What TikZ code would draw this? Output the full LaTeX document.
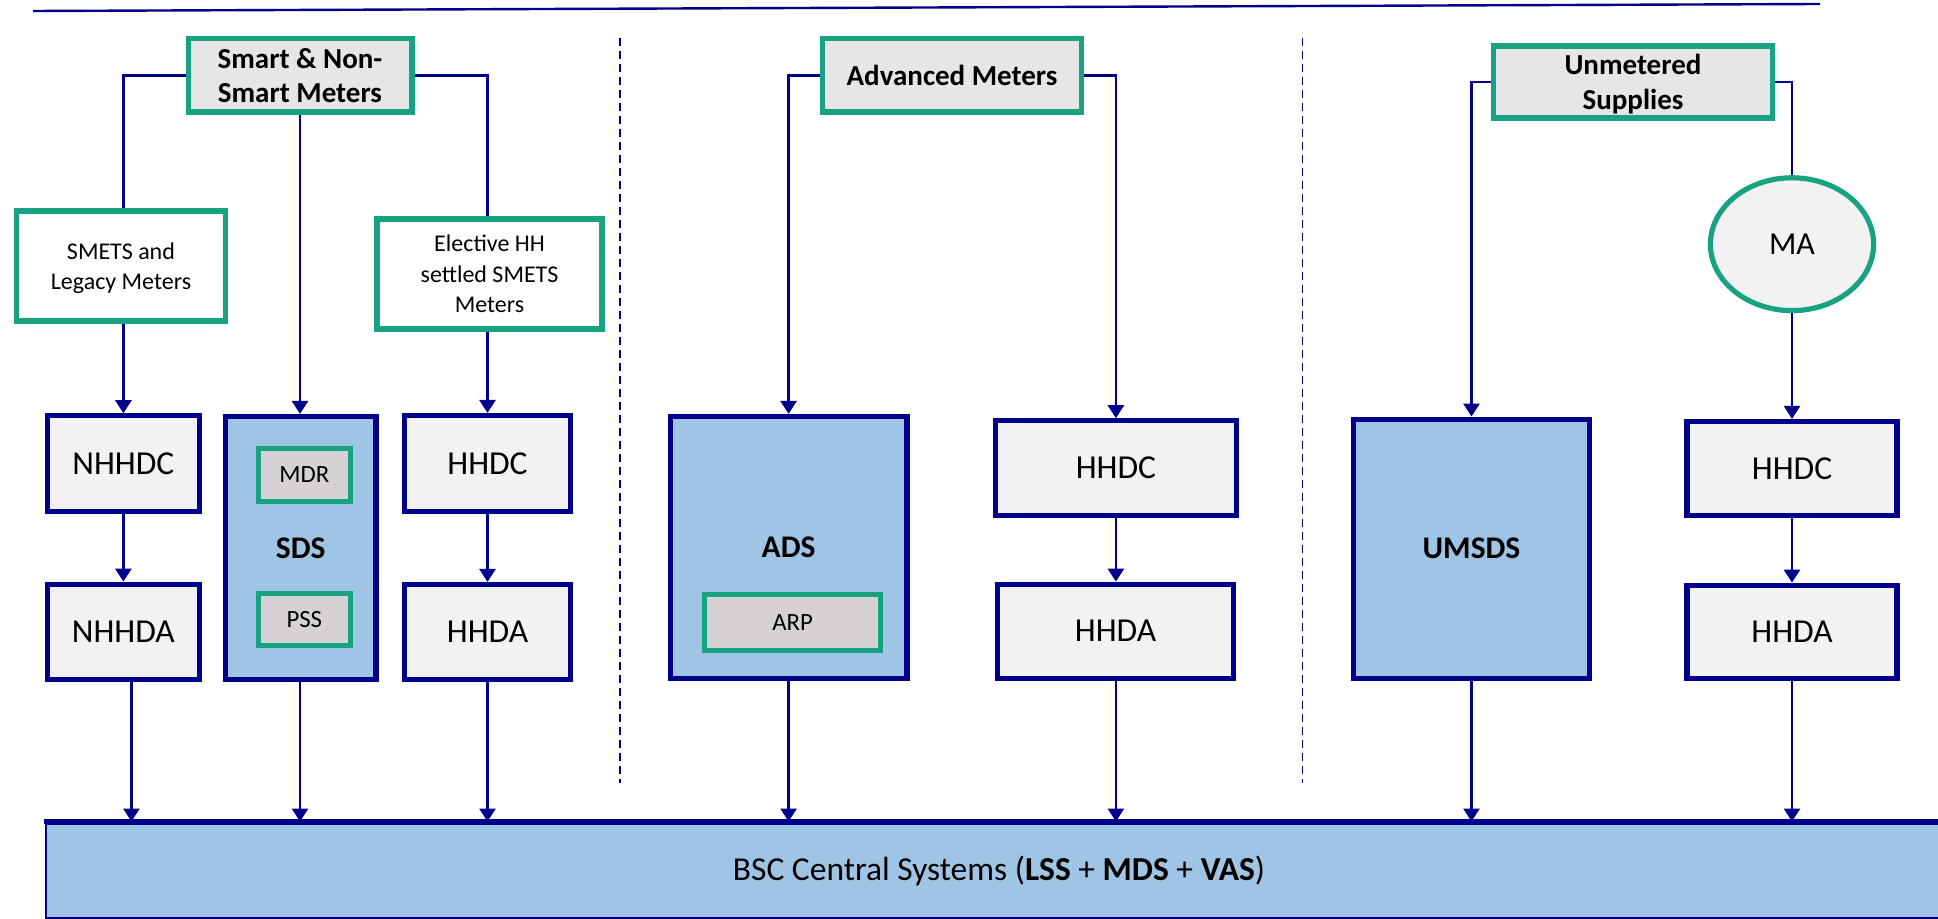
\documentclass[tikz,border=0pt]{standalone}
\usepackage{fontspec}
\setmainfont{Carlito}
\usetikzlibrary{arrows.meta,shapes.geometric}
\definecolor{navy}{RGB}{0,0,140}
\definecolor{tgreen}{RGB}{24,162,132}
\definecolor{lblue}{RGB}{160,196,228}
\definecolor{headgrey}{RGB}{230,230,230}
\definecolor{boxgrey}{RGB}{242,242,242}
\definecolor{innergrey}{RGB}{214,210,212}
\tikzset{
  navybox/.style={draw=navy, line width=2.6pt, fill=boxgrey, inner sep=0pt, font=\fontsize{16.75}{20}\selectfont},
  bluebox/.style={draw=navy, line width=2.6pt, fill=lblue, inner sep=0pt, font=\bfseries\fontsize{15.75}{19}\selectfont},
  headbox/.style={draw=tgreen, line width=2.75pt, fill=headgrey, inner sep=0pt, align=center, font=\bfseries\fontsize{14.5}{17.2}\selectfont},
  meterbox/.style={draw=tgreen, line width=2.9pt, fill=white, inner sep=0pt, align=center, font=\fontsize{12}{15.1}\selectfont},
  innerbox/.style={draw=tgreen, line width=2.5pt, fill=innergrey, inner sep=0pt, font=\fontsize{12.4}{15}\selectfont},
  maell/.style={ellipse, draw=tgreen, line width=2.6pt, fill=boxgrey, inner sep=0pt, font=\fontsize{16}{19}\selectfont},
  bscbox/.style={draw=navy, line width=1pt, fill=lblue, inner sep=0pt, outer sep=1.25pt, font=\fontsize{16.75}{20}\selectfont},
  conn/.style={draw=navy, line width=1.4pt},
  arr/.style={conn, -{Triangle[length=6.5pt,width=8pt]}},
  sep/.style={draw=navy, line width=0.8pt, dash pattern=on 4pt off 2.5pt}
}
\begin{document}
\begin{tikzpicture}[x=0.5pt,y=-0.5pt]
\useasboundingbox (0,0) rectangle (1938,919);
\clip (0,0) rectangle (1938,919);
\fill[white] (0,0) rectangle (1938,919);

% top rule and separators
\coordinate (tl) at (33,11);
\coordinate (tr) at (1820,4);
\draw[navy, line width=1.2pt] (tl) -- (tr);
\coordinate (s1a) at (620,38);   \coordinate (s1b) at (620,783);
\coordinate (s2a) at (1302.6,38); \coordinate (s2b) at (1302.6,783);
\draw[sep] (s1a) -- (s1b);
\draw[sep] (s2a) -- (s2b);

% BSC central systems
\node[bscbox, minimum width=953pt, minimum height=46.75pt] (bsc) at (999,870.75)
  {BSC Central Systems (\textbf{LSS} + \textbf{MDS} + \textbf{VAS})};
\draw[navy, line width=2.5pt] (bsc.north west) -- (bsc.north east);

% headings
\node[headbox, minimum width=111.75pt, minimum height=36.75pt] (smart) at (300,75.5) {Smart \& Non-\\Smart Meters};
\node[headbox, minimum width=129.5pt, minimum height=36.75pt] (adv) at (952,75.5) {Advanced Meters};
\node[headbox, text depth=0pt, minimum width=139.5pt, minimum height=36.1pt] (unm) at (1633,82) {Unmetered\\Supplies};

% meter boxes
\node[meterbox, text depth=0pt, minimum width=104.5pt, minimum height=55.25pt] (smets) at (121,266) {SMETS and\\Legacy Meters};
\node[meterbox, minimum width=112.75pt, minimum height=55.1pt] (elect) at (489.5,273.9) {Elective HH\\settled SMETS\\Meters};
\node[maell, minimum width=81.6pt, minimum height=66.4pt] (ma) at (1792,244.2) {MA};

% column 1
\node[navybox, minimum width=76.1pt, minimum height=47.85pt] (nhhdc) at (123.4,463.7) {NHHDC};
\node[navybox, minimum width=76.1pt, minimum height=47.5pt] (nhhda) at (123.4,631.7) {NHHDA};
\node[bluebox, minimum width=75.25pt, minimum height=131.35pt] (sds) at (300.75,547.85) {SDS};
\node[innerbox, minimum width=46pt, minimum height=26.5pt] (mdr) at (304.3,475) {MDR};
\node[innerbox, minimum width=46pt, minimum height=26.15pt] (pss) at (304.3,619.7) {PSS};
\node[navybox, minimum width=83pt, minimum height=48pt] (hhdc1) at (487.5,463.5) {HHDC};
\node[navybox, minimum width=83pt, minimum height=47.5pt] (hhda1) at (487.5,632) {HHDA};

% column 2
\node[bluebox, minimum width=118.3pt, minimum height=130.85pt] (ads) at (788.6,547.35) {ADS};
\node[innerbox, minimum width=87.75pt, minimum height=28.3pt] (arp) at (792.65,622.5) {ARP};
\node[navybox, minimum width=120.4pt, minimum height=47.2pt] (hhdc2) at (1115.9,468) {HHDC};
\node[navybox, minimum width=118pt, minimum height=47pt] (hhda2) at (1115.5,631.2) {HHDA};

% column 3
\node[bluebox, minimum width=118pt, minimum height=129.5pt] (umsds) at (1471.5,548.7) {UMSDS};
\node[navybox, minimum width=104.95pt, minimum height=46.85pt] (hhdc3) at (1792,468.35) {HHDC};
\node[navybox, minimum width=104.95pt, minimum height=46.5pt] (hhda3) at (1792,631.7) {HHDA};

% connectors from headings
\draw[conn] (smart.west) -| (nhhdc.north |- smets.north);
\draw[arr] (smart.south) -- (smart.south |- sds.north);
\draw[conn] (smart.east) -| (hhdc1.north |- elect.north);
\draw[arr] (adv.west) -| (ads.north);
\draw[arr] (adv.east) -| (hhdc2.north);
\draw[arr] (unm.west) -| (umsds.north);
\draw[conn] (unm.east) -| (ma.north);

% meters to collectors
\draw[arr] (nhhdc.north |- smets.south) -- (nhhdc.north);
\draw[arr] (hhdc1.north |- elect.south) -- (hhdc1.north);
\draw[arr] (ma.south) -- (hhdc3.north);

% DC to DA
\draw[arr] (nhhdc.south) -- (nhhda.north);
\draw[arr] (hhdc1.south) -- (hhda1.north);
\draw[arr] (hhdc2.south) -- (hhdc2.south |- hhda2.north);
\draw[arr] (hhdc3.south) -- (hhda3.north);

% to BSC
\coordinate (nhhdaout) at ([xshift=4pt]nhhda.south);
\draw[arr] (nhhdaout) -- (nhhdaout |- bsc.north);
\draw[arr] (smart.south |- sds.south) -- (smart.south |- bsc.north);
\draw[arr] (hhda1.south) -- (hhda1.south |- bsc.north);
\draw[arr] (ads.south) -- (ads.south |- bsc.north);
\draw[arr] (hhdc2.south |- hhda2.south) -- (hhdc2.south |- bsc.north);
\draw[arr] (umsds.south) -- (umsds.south |- bsc.north);
\draw[arr] (hhda3.south) -- (hhda3.south |- bsc.north);
\end{tikzpicture}
\end{document}
